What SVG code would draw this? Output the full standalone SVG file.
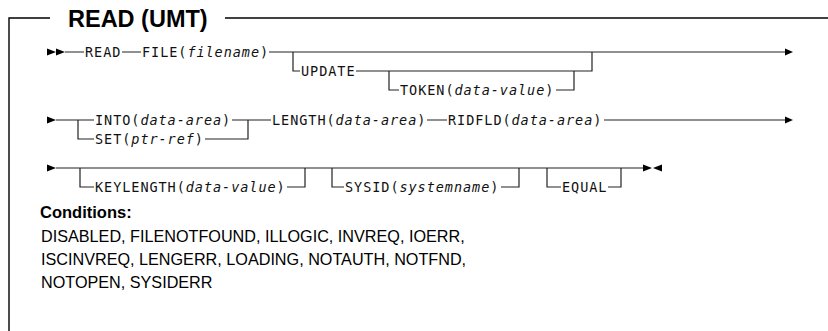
<svg xmlns="http://www.w3.org/2000/svg" width="828" height="331" viewBox="0 0 828 331">
<style>
.ln{fill:none;stroke:#222;stroke-width:1.2}
.fr{fill:none;stroke:#000;stroke-width:1.4}
.ar{fill:#000}
.m{font-family:"DejaVu Sans Mono",monospace;font-size:13.5px;letter-spacing:0.95px;fill:#111}
.i{font-style:italic}
.t{font-family:"Liberation Sans",Arial,sans-serif;font-weight:bold;font-size:23.5px;fill:#000}
.ch{font-family:"Liberation Sans",Arial,sans-serif;font-weight:bold;font-size:16.5px;fill:#000}
.c{font-family:"Liberation Sans",Arial,sans-serif;font-size:16.2px;fill:#000}
</style>
<rect width="828" height="331" fill="#fff"/>
<g id="frame">
<path class="fr" d="M9,331 V18 H50"/>
<path class="fr" d="M225,18 H828"/>
<text class="t" x="68" y="27">READ (UMT)</text>
</g>
<g id="connectors">
<path class="ar" d="M47,48.5 L56,52 L47,55.5 Z M56,48.5 L65,52 L56,55.5 Z"/>
<path class="ln" d="M65,52 H84 M122,52 H141 M269,52 H786"/>
<path class="ar" d="M785,48.5 L793,52 L785,55.5 Z"/>
<path class="ln" d="M293,52 V71 H300 M356,71 H592 V52"/>
<path class="ln" d="M389,71 V90 H399 M556,90 H574 V71"/>
<path class="ar" d="M47,116.5 L56,120 L47,123.5 Z"/>
<path class="ln" d="M56,120 H94 M78,120 V139 H94 M232,120 H271 M248,120 V139 H205 M427,120 H447 M604,120 H786"/>
<path class="ar" d="M785,116.5 L793,120 L785,123.5 Z"/>
<path class="ar" d="M47,164.5 L56,168 L47,171.5 Z"/>
<path class="ln" d="M56,168 H643"/>
<path class="ln" d="M80,168 V187 H94 M287,187 H305 V168"/>
<path class="ln" d="M332,168 V187 H344 M501,187 H519 V168"/>
<path class="ln" d="M547,168 V187 H561 M608,187 H621 V168"/>
<path class="ar" d="M643,164.5 L652,168 L643,171.5 Z M662,164.5 L653,168 L662,171.5 Z"/>
</g>
<g id="n-read"><text class="m" x="85" y="56.9">READ</text></g>
<g id="n-file"><text class="m" x="142" y="56.9">FILE(<tspan class="i">filename</tspan>)</text></g>
<g id="n-update"><text class="m" x="301" y="75.9">UPDATE</text></g>
<g id="n-token"><text class="m" x="400" y="94.9">TOKEN(<tspan class="i">data-value</tspan>)</text></g>
<g id="n-into"><text class="m" x="95" y="124.9">INTO(<tspan class="i">data-area</tspan>)</text></g>
<g id="n-set"><text class="m" x="95" y="143.9">SET(<tspan class="i">ptr-ref</tspan>)</text></g>
<g id="n-length"><text class="m" x="272" y="124.9">LENGTH(<tspan class="i">data-area</tspan>)</text></g>
<g id="n-ridfld"><text class="m" x="448" y="124.9">RIDFLD(<tspan class="i">data-area</tspan>)</text></g>
<g id="n-keylength"><text class="m" x="95" y="191.9">KEYLENGTH(<tspan class="i">data-value</tspan>)</text></g>
<g id="n-sysid"><text class="m" x="345" y="191.9">SYSID(<tspan class="i">systemname</tspan>)</text></g>
<g id="n-equal"><text class="m" x="562" y="191.9">EQUAL</text></g>
<g id="conditions">
<text class="ch" x="40" y="218">Conditions:</text>
<text class="c" x="41" y="242">DISABLED, FILENOTFOUND, ILLOGIC, INVREQ, IOERR,</text>
<text class="c" x="41" y="265">ISCINVREQ, LENGERR, LOADING, NOTAUTH, NOTFND,</text>
<text class="c" x="41" y="288">NOTOPEN, SYSIDERR</text>
</g>
</svg>
